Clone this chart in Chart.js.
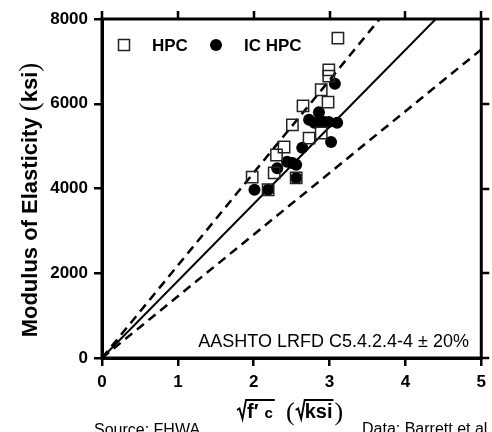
<!DOCTYPE html>
<html>
<head>
<meta charset="utf-8">
<script src="https://cdn.jsdelivr.net/npm/chart.js@4.4.1/dist/chart.umd.min.js"></script>
<style>
  html, body { margin: 0; padding: 0; background: #fff; }
  #wrap { width: 492px; height: 432px; }
</style>
</head>
<body>
<div id="wrap"><canvas id="chart-ec" width="492" height="432"></canvas></div>
<script>
// HPC (open squares) - sqrt(f'c) in sqrt(ksi), E in ksi
const hpcX = [3.11, 2.99, 2.99, 2.89, 2.98, 2.65, 2.51, 2.73, 2.89, 2.40, 2.30, 2.27, 1.98, 2.56, 2.19];
const hpcY = [7550, 6800, 6650, 6330, 6040, 5950, 5500, 5190, 5310, 4980, 4790, 4370, 4270, 4250, 3970];

// IC HPC (filled circles)
const icX = [3.07, 2.86, 2.73, 2.80, 2.86, 2.93, 2.99, 3.10, 3.02, 2.64, 2.44, 2.51, 2.56, 2.31, 2.01, 2.19, 2.56];
const icY = [6470, 5800, 5620, 5550, 5570, 5570, 5570, 5550, 5100, 4960, 4630, 4600, 4560, 4480, 3970, 3970, 4250];

// AASHTO line and +/-20% band, end points where they leave the frame
const aashtoX = [0, 4.40];
const aashtoY = [0, 8000];
const upperX = [0, 3.66];
const upperY = [0, 8000];
const lowerX = [0, 5];
const lowerY = [0, 7280];

const xTicks = [0, 1, 2, 3, 4, 5];
const yTicks = [0, 2000, 4000, 6000, 8000];

const SANS = '"Liberation Sans", Arial, sans-serif';
const SERIF = '"Liberation Serif", "DejaVu Serif", serif';

const pts = (xs, ys) => xs.map((x, i) => ({ x: x, y: ys[i] }));

// ---- frame: top / right edges with outward ticks (left/bottom come from the axes)
const framePlugin = {
    id: 'frame',
    afterDraw: (chart) => {
        const { ctx, chartArea: a, scales } = chart;
        ctx.save();
        ctx.strokeStyle = '#000';
        ctx.lineWidth = 3;
        ctx.strokeRect(a.left, a.top, a.right - a.left, a.bottom - a.top);
        ctx.lineWidth = 2.5;
        ctx.beginPath();
        xTicks.forEach(v => {
            const px = Math.round(scales.x.getPixelForValue(v));
            ctx.moveTo(px, a.top);
            ctx.lineTo(px, a.top - 8);
        });
        yTicks.forEach(v => {
            const py = Math.round(scales.y.getPixelForValue(v));
            ctx.moveTo(a.right, py);
            ctx.lineTo(a.right + 8, py);
        });
        ctx.stroke();
        ctx.restore();
    }
};

// ---- legend inside the plot, annotation, axis titles, footers
const textPlugin = {
    id: 'texts',
    afterDraw: (chart) => {
        const { ctx } = chart;
        ctx.save();
        ctx.fillStyle = '#000';
        ctx.strokeStyle = '#222';

        // legend
        ctx.lineWidth = 1.5;
        ctx.strokeRect(118.5, 39.5, 11, 11);
        ctx.font = 'bold 17px ' + SANS;
        ctx.textBaseline = 'middle';
        ctx.textAlign = 'left';
        ctx.fillText('HPC', 152, 46);
        ctx.beginPath();
        ctx.arc(216, 45, 6, 0, 2 * Math.PI);
        ctx.fill();
        ctx.fillText('IC HPC', 244, 46);

        // annotation
        ctx.font = '18px ' + SANS;
        ctx.textAlign = 'right';
        ctx.textBaseline = 'alphabetic';
        ctx.fillText('AASHTO LRFD C5.4.2.4-4 \u00b1 20%', 469, 347);

        // y title
        ctx.save();
        ctx.translate(37, 200);
        ctx.rotate(-Math.PI / 2);
        const p1 = 'Modulus of Elasticity ';
        const bold = 'bold 22px ' + SANS;
        const paren = '27px ' + SERIF;
        ctx.font = bold;
        const w1 = ctx.measureText(p1).width;
        const wk = ctx.measureText('ksi').width;
        ctx.font = paren;
        const wp = ctx.measureText('(').width;
        const total = w1 + wk + 2 * wp;
        let x = -total / 2;
        ctx.textAlign = 'left';
        ctx.font = bold; ctx.fillText(p1, x, 0); x += w1;
        ctx.font = paren; ctx.fillText('(', x, 1); x += wp;
        ctx.font = bold; ctx.fillText('ksi', x, 0); x += wk;
        ctx.font = paren; ctx.fillText(')', x, 1);
        ctx.restore();

        // x title: sqrt(f'c) (sqrt ksi)
        const base = 418, top = 400;
        const radical = (x0, x1) => {
            ctx.beginPath();
            ctx.moveTo(x0, base - 8);
            ctx.lineTo(x0 + 2.5, base - 9.5);
            ctx.lineTo(x0 + 5.5, base + 1);
            ctx.lineTo(x0 + 9, top);
            ctx.lineTo(x1, top);
            ctx.stroke();
        };
        ctx.strokeStyle = '#000';
        ctx.lineWidth = 1.8;
        ctx.textAlign = 'left';
        ctx.textBaseline = 'alphabetic';
        let cx = 237;
        const fFont = 'bold 20px ' + SANS;
        const cFont = 'bold 15px ' + SANS;
        ctx.font = fFont;
        const wf = ctx.measureText('f\u2032').width;
        ctx.font = cFont;
        const wc = ctx.measureText('c').width;
        radical(cx, cx + 10 + wf + 6 + wc + 2);
        ctx.font = fFont; ctx.fillText('f\u2032', cx + 10, base);
        ctx.font = cFont; ctx.fillText('c', cx + 10 + wf + 6, base);
        cx = 286;
        ctx.font = '26px ' + SERIF;
        ctx.fillText('(', cx, base + 2);
        cx += ctx.measureText('(').width + 1;
        ctx.font = fFont;
        const wksi = ctx.measureText('ksi').width;
        radical(cx, cx + 9 + wksi + 1);
        ctx.fillText('ksi', cx + 9, base);
        cx += 9 + wksi + 2;
        ctx.font = '26px ' + SERIF;
        ctx.fillText(')', cx, base + 2);

        // footers
        ctx.font = '16px ' + SANS;
        ctx.fillText('Source: FHWA', 94, 435);
        ctx.fillText('Data: Barrett et al.', 362, 434);
        ctx.restore();
    }
};

function createChart() {
    const ctx = document.getElementById('chart-ec').getContext('2d');
    const tickFont = { family: SANS, size: 17, weight: 'bold' };

    new Chart(ctx, {
        type: 'scatter',
        data: {
            datasets: [
                {
                    label: 'HPC',
                    data: pts(hpcX, hpcY),
                    pointStyle: 'rect',
                    pointRadius: 8,
                    pointBorderColor: '#222',
                    pointBorderWidth: 1.5,
                    pointBackgroundColor: 'rgba(255,255,255,0)'
                },
                {
                    label: 'IC HPC',
                    data: pts(icX, icY),
                    pointStyle: 'circle',
                    pointRadius: 6,
                    pointBorderWidth: 0,
                    pointBackgroundColor: '#000'
                },
                {
                    label: 'AASHTO',
                    data: pts(aashtoX, aashtoY),
                    showLine: true,
                    borderColor: '#000',
                    borderWidth: 2,
                    pointRadius: 0
                },
                {
                    label: '+20%',
                    data: pts(upperX, upperY),
                    showLine: true,
                    borderColor: '#000',
                    borderWidth: 2.5,
                    borderDash: [9, 6],
                    pointRadius: 0
                },
                {
                    label: '-20%',
                    data: pts(lowerX, lowerY),
                    showLine: true,
                    borderColor: '#000',
                    borderWidth: 2.5,
                    borderDash: [9, 6],
                    pointRadius: 0
                }
            ]
        },
        options: {
            responsive: false,
            animation: false,
            layout: { padding: { top: 19, right: 9, left: 0, bottom: 0 } },
            scales: {
                x: {
                    type: 'linear',
                    min: 0, max: 5,
                    afterBuildTicks: (s) => { s.ticks = xTicks.map(v => ({ value: v })); },
                    afterFit: (s) => { s.height = 74; },
                    ticks: { font: tickFont, color: '#000', padding: 6, callback: (v) => String(v) },
                    grid: { drawOnChartArea: false, drawTicks: true, tickLength: 8, color: '#000', lineWidth: 2.5 },
                    border: { display: true, color: '#000', width: 3 }
                },
                y: {
                    type: 'linear',
                    min: 0, max: 8000,
                    afterBuildTicks: (s) => { s.ticks = yTicks.map(v => ({ value: v })); },
                    afterFit: (s) => { s.width = 102; },
                    ticks: { font: tickFont, color: '#000', padding: 6, callback: (v) => String(v) },
                    grid: { drawOnChartArea: false, drawTicks: true, tickLength: 8, color: '#000', lineWidth: 2.5 },
                    border: { display: true, color: '#000', width: 3 }
                }
            },
            plugins: {
                legend: { display: false },
                tooltip: { enabled: false }
            }
        },
        plugins: [framePlugin, textPlugin]
    });
}

createChart();
</script>
</body>
</html>
